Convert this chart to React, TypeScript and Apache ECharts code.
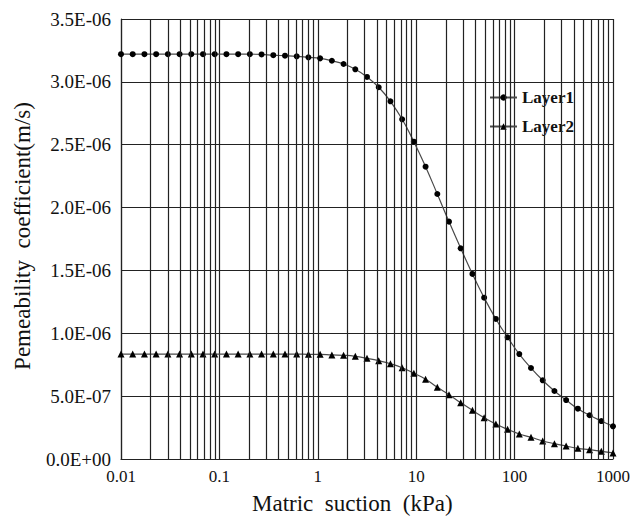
import React, { useEffect, useRef } from "react";
import * as echarts from "echarts";

// Matric suction (kPa) of each sampled point
const suction: number[] = [
  0.01, 0.013155, 0.017305, 0.022764, 0.029946, 0.039394, 0.051795, 0.068129, 0.089624,
  0.11788, 0.15508, 0.204, 0.26827, 0.3529, 0.46416, 0.61054, 0.80318, 1.0563, 1.3895,
  1.8279, 2.4046, 3.1623, 4.1599, 5.472, 7.1969, 9.4665, 12.453, 16.38, 21.544, 28.34,
  37.276, 49.036, 64.508, 84.834, 111.6, 146.78, 193.07, 253.99, 334.0, 439.4, 578.0,
  760.3, 1000,
];

// Permeability coefficient (m/s)
const layer1: number[] = [
  3.22e-6, 3.22e-6, 3.22e-6, 3.22e-6, 3.22e-6, 3.22e-6, 3.22e-6, 3.22e-6, 3.22e-6,
  3.22e-6, 3.22e-6, 3.22e-6, 3.218e-6, 3.212e-6, 3.208e-6, 3.203e-6, 3.195e-6, 3.187e-6,
  3.168e-6, 3.142e-6, 3.1e-6, 3.039e-6, 2.957e-6, 2.845e-6, 2.702e-6, 2.524e-6, 2.325e-6,
  2.108e-6, 1.888e-6, 1.676e-6, 1.472e-6, 1.283e-6, 1.114e-6, 0.968e-6, 0.835e-6,
  0.724e-6, 0.626e-6, 0.541e-6, 0.469e-6, 0.4e-6, 0.348e-6, 0.302e-6, 0.26e-6,
];

const layer2: number[] = [
  0.835e-6, 0.835e-6, 0.835e-6, 0.835e-6, 0.835e-6, 0.835e-6, 0.835e-6, 0.835e-6,
  0.835e-6, 0.835e-6, 0.835e-6, 0.835e-6, 0.835e-6, 0.835e-6, 0.835e-6, 0.835e-6,
  0.833e-6, 0.833e-6, 0.828e-6, 0.825e-6, 0.817e-6, 0.801e-6, 0.782e-6, 0.758e-6,
  0.726e-6, 0.682e-6, 0.634e-6, 0.57e-6, 0.512e-6, 0.448e-6, 0.387e-6, 0.329e-6,
  0.278e-6, 0.236e-6, 0.199e-6, 0.173e-6, 0.143e-6, 0.122e-6, 0.103e-6, 0.085e-6,
  0.074e-6, 0.061e-6, 0.048e-6,
];

const seriesNames = ["Layer1", "Layer2"];
const xTitle = "Matric  suction  (kPa)";
const yTitle = "Pemeability  coefficient(m/s)";
const decades: number[] = [0.01, 0.1, 1, 10, 100];
const minorSteps: number[] = [2, 3, 4, 5, 6, 7, 8, 9];

const FONT = "Liberation Serif";
const GRID = "#222222";

function fmtY(v: number): string {
  if (v === 0) return "0.0E+00";
  const e = Math.floor(Math.log10(v) + 1e-9);
  const m = v / Math.pow(10, e);
  const sign = e < 0 ? "-" : "+";
  const a = Math.abs(e);
  return m.toFixed(1) + "E" + sign + (a < 10 ? "0" + a : String(a));
}

export default function App() {
  const ref = useRef<HTMLDivElement>(null);
  useEffect(() => {
    if (!ref.current) return;
    const chart = echarts.init(ref.current, undefined, { renderer: "svg" });
    const minorLines: any[] = [];
    decades.forEach((d) =>
      minorSteps.forEach((s) => minorLines.push({ xAxis: parseFloat((d * s).toPrecision(6)) }))
    );
    chart.setOption({
      animation: false,
      backgroundColor: "#ffffff",
      textStyle: { fontFamily: FONT },
      grid: { left: 121, right: 20, top: 19, bottom: 58, containLabel: false },
      legend: {
        orient: "vertical",
        left: 484,
        top: 84,
        itemWidth: 27,
        itemHeight: 8,
        itemGap: 12,
        data: seriesNames,
        textStyle: { fontFamily: FONT, fontSize: 17, fontWeight: "bold", color: "#111" },
      },
      xAxis: {
        type: "log",
        logBase: 10,
        min: 0.01,
        max: 1000,
        axisLine: { show: true, lineStyle: { color: GRID, width: 1.2 } },
        axisTick: { show: false },
        splitLine: { show: true, lineStyle: { color: GRID, width: 1.2 } },
        axisLabel: {
          fontFamily: FONT,
          fontSize: 17,
          color: "#111",
          margin: 9,
          formatter: (v: number) => String(parseFloat(Number(v).toPrecision(6))),
        },
      },
      yAxis: {
        type: "value",
        min: 0,
        max: 3.5e-6,
        interval: 5e-7,
        axisLine: { show: true, lineStyle: { color: GRID, width: 1.2 } },
        axisTick: { show: false },
        splitLine: { show: true, lineStyle: { color: GRID, width: 1.2 } },
        axisLabel: { fontFamily: FONT, fontSize: 19, color: "#111", margin: 10, formatter: fmtY },
      },
      graphic: [
        {
          type: "text",
          left: 252,
          top: 492,
          style: { text: xTitle, fontFamily: FONT, fontSize: 23, fill: "#111" },
        },
        {
          type: "text",
          x: 22,
          y: 236,
          rotation: Math.PI / 2,
          style: {
            text: yTitle,
            fontFamily: FONT,
            fontSize: 23,
            fill: "#111",
            align: "center",
            verticalAlign: "middle",
          },
        },
      ],
      series: [
        {
          name: "gridMinor",
          type: "line",
          data: [],
          silent: true,
          z: 1,
          markLine: {
            silent: true,
            symbol: "none",
            label: { show: false },
            lineStyle: { color: GRID, width: 1.2, type: "solid" },
            emphasis: { disabled: true },
            animation: false,
            data: minorLines,
          },
        },
        {
          name: seriesNames[0],
          type: "line",
          z: 3,
          data: suction.map((x, i) => [x, layer1[i]]),
          smooth: true,
          symbol: "circle",
          symbolSize: 6,
          itemStyle: { color: "#000" },
          lineStyle: { color: "#4a4a4a", width: 1.2 },
        },
        {
          name: seriesNames[1],
          type: "line",
          z: 3,
          data: suction.map((x, i) => [x, layer2[i]]),
          smooth: true,
          symbol: "triangle",
          symbolSize: 7,
          itemStyle: { color: "#000" },
          lineStyle: { color: "#4a4a4a", width: 1.2 },
        },
      ],
    });
    return () => chart.dispose();
  }, []);
  return <div ref={ref} style={{ width: 633, height: 517, position: "absolute", left: 0, top: 0 }} />;
}
